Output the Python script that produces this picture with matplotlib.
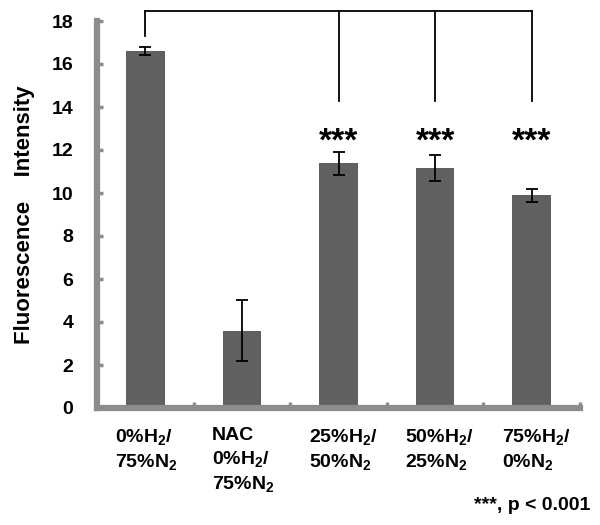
import matplotlib
matplotlib.use("Agg")
import matplotlib.pyplot as plt
import numpy as np

plt.rcParams["font.family"] = ["Liberation Sans", "DejaVu Sans"]
plt.rcParams["font.weight"] = "bold"
plt.rcParams["mathtext.fontset"] = "custom"
plt.rcParams["mathtext.rm"] = "Liberation Sans:bold"
plt.rcParams["mathtext.bf"] = "Liberation Sans:bold"

# Data
groups = ["0%H$_2$/\n75%N$_2$",
          "NAC\n0%H$_2$/\n75%N$_2$",
          "25%H$_2$/\n50%N$_2$",
          "50%H$_2$/\n25%N$_2$",
          "75%H$_2$/\n0%N$_2$"]
values = [16.62, 3.6, 11.38, 11.18, 9.89]
errors = [0.18, 1.43, 0.53, 0.6, 0.3]
y_ticks = list(range(0, 19, 2))
sig_groups = [2, 3, 4]
sig_label = "***"

BAR = "#606060"
AXIS = "#8c8c8c"

fig = plt.figure(figsize=(6, 5.25), dpi=100)
ax = fig.add_axes([97 / 600, 117 / 525, 483 / 600, 387 / 525])

x = np.arange(len(values))
ax.bar(x, values, width=0.4, color=BAR, zorder=2)
ax.errorbar(x, values, yerr=errors, fmt="none", ecolor="black",
            elinewidth=1.3, capsize=4, capthick=1.3, zorder=3)

ax.set_xlim(-0.5, 4.5)
ax.set_ylim(0, 18)
ax.tick_params(axis="y", direction="in", length=4, width=2.5, color=AXIS,
               pad=17)
ax.tick_params(axis="x", which="minor", direction="in", length=4, width=2.5,
               color=AXIS)
ax.set_yticks(y_ticks, labels=[str(t) for t in y_ticks], fontweight="bold",
              fontsize=14)
ax.set_xticks([])
ax.set_xticks([0.5, 1.5, 2.5, 3.5, 4.5], minor=True)

for side in ["top", "right"]:
    ax.spines[side].set_visible(False)
for side in ["left", "bottom"]:
    ax.spines[side].set_linewidth(4.5)
    ax.spines[side].set_color(AXIS)

ax.set_ylabel("Fluorescence    Intensity", fontsize=16, fontweight="bold",
              labelpad=12)

# significance stars
for i in sig_groups:
    ax.text(x[i], 11.65, sig_label, ha="center", va="bottom", fontsize=24,
            fontweight="bold")

# comparison bracket
top = 18.45
ax.plot([x[0], x[0]], [17.3, top], color="black", lw=1.3, clip_on=False)
ax.plot([x[0], x[4]], [top, top], color="black", lw=1.3, clip_on=False)
for i in sig_groups:
    ax.plot([x[i], x[i]], [14.3, top], color="black", lw=1.3, clip_on=False)

# category labels
for i, g in enumerate(groups):
    ax.text(x[i] - 0.31, -0.9, g, ha="left", va="top", fontsize=14,
            fontweight="bold", linespacing=1.35)

fig.text(590 / 600, 1 - 506 / 525, "***, p < 0.001", ha="right",
         va="center", fontsize=14, fontweight="bold")

fig.savefig("out.png", dpi=100)
